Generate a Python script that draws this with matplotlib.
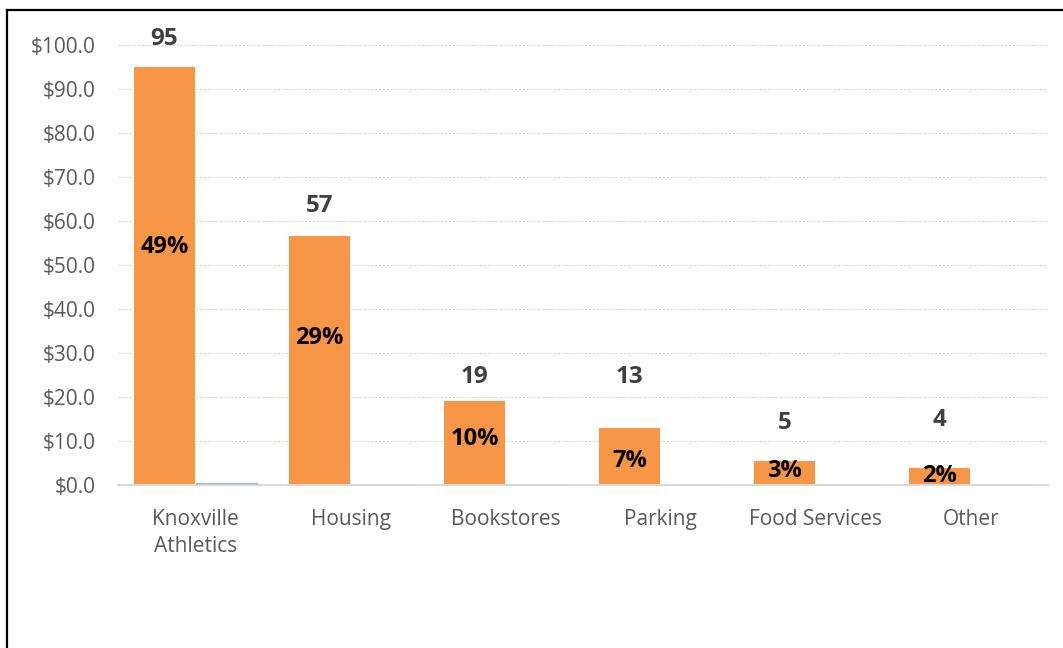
import matplotlib.pyplot as plt
import numpy as np
from matplotlib.lines import Line2D

categories = ['Knoxville\nAthletics', 'Housing', 'Bookstores', 'Parking', 'Food Services', 'Other']
revenue = [95.0, 56.6, 19.1, 13.0, 5.4, 3.9]
other_series = [0.35, 0.0, 0.0, 0.0, 0.0, 0.0]
value_labels = ['95', '57', '19', '13', '5', '4']
share_labels = ['49%', '29%', '10%', '7%', '3%', '2%']
yticks = [0, 10, 20, 30, 40, 50, 60, 70, 80, 90, 100]

ORANGE = '#F79646'
plt.rcParams['font.family'] = ['Open Sans', 'DejaVu Sans']

fig = plt.figure(figsize=(10.63, 6.48), dpi=100)
ax = fig.add_axes([0.111, 0.2515, 0.875, 0.679])

x = np.arange(len(categories))
w = 0.39
ax.bar(x - 0.2, revenue, width=w, color=ORANGE, zorder=3)
ax.bar(x + 0.2, other_series, width=w, color='#D9D9D9', edgecolor='#8DB4E2',
       linewidth=0.8, zorder=6)

# labels above bars (offsets were placed by hand in the original)
top_offsets = [6.3, 6.8, 5.4, 11.5, 8.7, 10.8]
for xi, v, lab, off in zip(x, revenue, value_labels, top_offsets):
    ax.text(xi - 0.2, v + off, lab, ha='center', va='center', fontsize=17.5,
            fontweight='bold', color='#404040', zorder=5)

share_pos = [0.57, 0.59, 0.55, 0.42, 0.58, 0.55]
for xi, v, lab, f in zip(x, revenue, share_labels, share_pos):
    ax.text(xi - 0.2, v * f, lab, ha='center', va='center', fontsize=17,
            fontweight='bold', color='black', zorder=5)

ax.set_xlim(-0.5, len(categories) - 0.5)
ax.set_ylim(0, 100)
ax.set_yticks(yticks)
ax.set_yticklabels([f'${t:.1f}' for t in yticks])
ax.set_xticks(x)
ax.set_xticklabels(categories, linespacing=1.4)
ax.tick_params(axis='both', length=0, labelsize=15, labelcolor='#595959')
ax.tick_params(axis='y', pad=16)
ax.tick_params(axis='x', pad=17)

ax.grid(axis='y', color='#D0D0D0', linestyle=(0, (2, 2)), linewidth=0.7, zorder=0)
ax.set_axisbelow(True)
for s in ['top', 'right', 'left']:
    ax.spines[s].set_visible(False)
ax.spines['bottom'].set_color('#D9D9D9')
ax.spines['bottom'].set_linewidth(1.5)
ax.spines['bottom'].set_zorder(4)

# frame around the chart, left and top edges only
fig.add_artist(Line2D([7 / 1063, 7 / 1063], [0, 1 - 10 / 648], color='black', linewidth=1.6))
fig.add_artist(Line2D([7 / 1063, 1], [1 - 10 / 648, 1 - 10 / 648], color='black', linewidth=1.6))

fig.savefig('out.png', dpi=100, facecolor='white')
